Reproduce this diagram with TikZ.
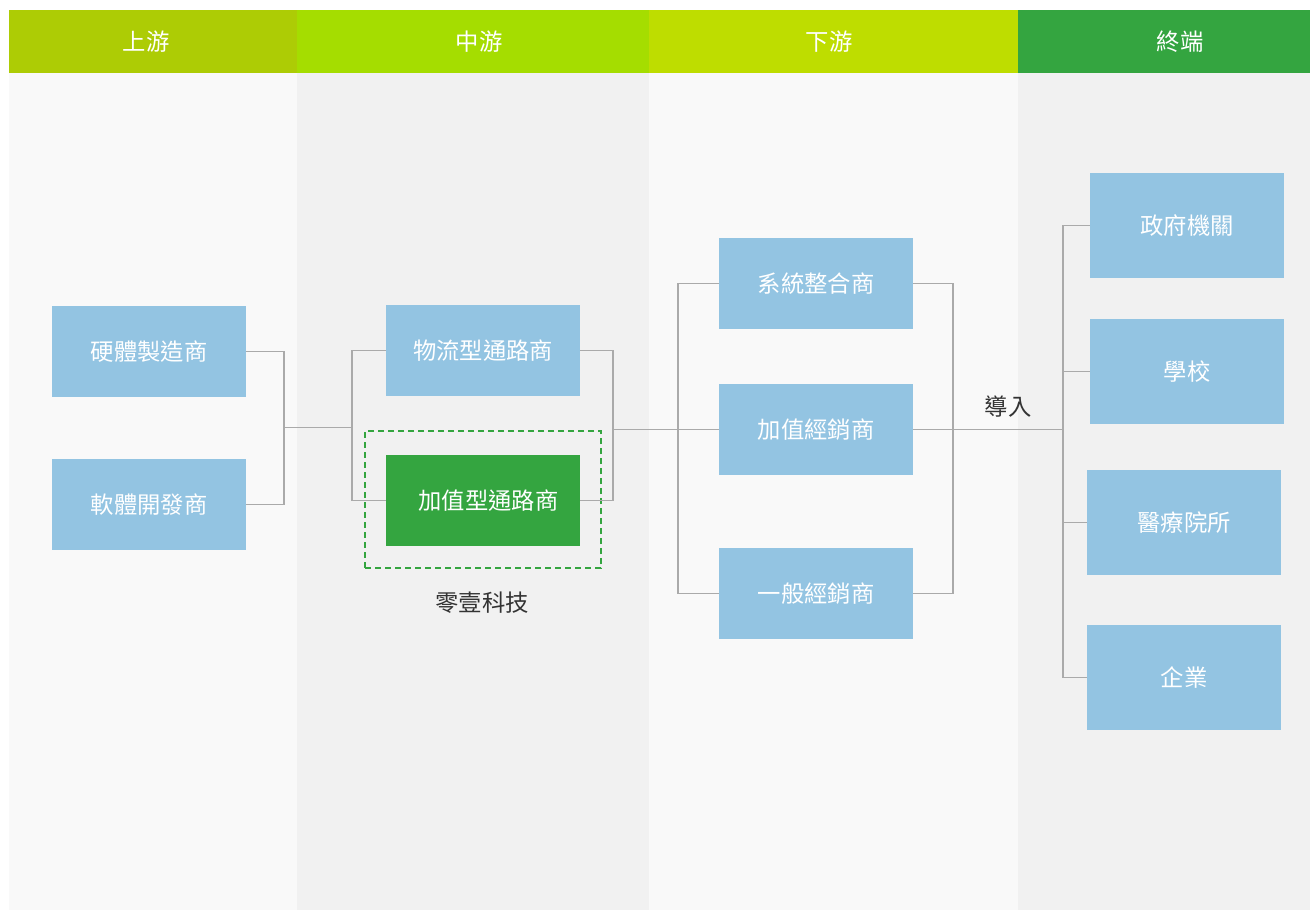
\documentclass[tikz,border=0pt]{standalone}
\usepackage{fontspec}
\setmainfont{Noto Sans CJK TC}
\usetikzlibrary{positioning}
\definecolor{hdup}{HTML}{ADCC05}
\definecolor{hdmid}{HTML}{A5DD00}
\definecolor{hddown}{HTML}{BEDD00}
\definecolor{hdend}{HTML}{34A540}
\definecolor{bglight}{HTML}{F9F9F9}
\definecolor{bgdark}{HTML}{F1F1F1}
\definecolor{boxblue}{HTML}{93C4E2}
\definecolor{boxgreen}{HTML}{34A540}
\definecolor{linegray}{HTML}{AAAAAA}
\definecolor{txtgray}{HTML}{333333}
\begin{document}
\begin{tikzpicture}[x=0.75pt, y=-0.75pt,
    every node/.style={font=\fontsize{17.5}{20}\selectfont},
    head/.style={text=white},
    bluebox/.style={fill=boxblue, text=white, inner sep=0pt, minimum width=145.5pt, minimum height=68.25pt},
    tallbox/.style={bluebox, minimum height=78.75pt},
    greenbox/.style={bluebox, fill=boxgreen},
    dashbox/.style={draw=boxgreen, line width=1.2pt, dash pattern=on 4.5pt off 3pt, minimum width=177pt, minimum height=102.75pt, inner sep=0pt},
    link/.style={draw=linegray, line width=1.4pt}]
    \useasboundingbox (0,0) rectangle (1310,910);
    \fill[white] (0,0) rectangle (1310,910);
    % columns
    \fill[bglight] (9,73) rectangle (297,910);
    \fill[bgdark] (297,73) rectangle (649,910);
    \fill[bglight] (649,73) rectangle (1018,910);
    \fill[bgdark] (1018,73) rectangle (1310,910);
    \fill[hdup] (9,10) rectangle (297,73);
    \fill[hdmid] (297,10) rectangle (649,73);
    \fill[hddown] (649,10) rectangle (1018,73);
    \fill[hdend] (1018,10) rectangle (1310,73);
    \node[head] (hup) at (146,42) {上游};
    \node[head] (hmid) at (479,42) {中游};
    \node[head] (hdown) at (829,42) {下游};
    \node[head] (hend) at (1180,42) {終端};

    % junctions
    \coordinate (j1) at (284,427.5);
    \coordinate (j2) at (352,427.5);
    \coordinate (j3) at (613,429.5);
    \coordinate (j4) at (678,429.5);
    \coordinate (j5) at (953,429.5);
    \coordinate (j6) at (1063,429.5);

    % boxes
    \node[bluebox] (hw) at (149,351.5) {硬體製造商};
    \node[bluebox] (sw) at (149,504.5) {軟體開發商};
    \node[bluebox] (logi) at (483,350.5) {物流型通路商};
    \node[greenbox] (vad) at (483,500.5) {\hspace{8pt}加值型通路商};
    \node[dashbox] (zero) at (483,499.5) {};
    \node[text=txtgray] (zerolbl) at (482,603) {零壹科技};
    \node[bluebox] (si) at (816,283.5) {系統整合商};
    \node[bluebox] (var) at (816,429.5) {加值經銷商};
    \node[bluebox] (gen) at (816,593.5) {一般經銷商};
    \node[tallbox] (gov) at (1187,225.5) {政府機關};
    \node[tallbox] (sch) at (1187,371.5) {學校};
    \node[tallbox] (med) at (1184,522.5) {醫療院所};
    \node[tallbox] (ent) at (1184,677.5) {企業};

    % connectors
    \draw[link] (hw.east) -| (j1) |- (sw.east);
    \draw[link] (j1) -- (j2);
    \draw[link] (logi.west) -| (j2) |- (vad.west);
    \draw[link] (logi.east) -| (j3) |- (vad.east);
    \draw[link] (j3) -- (var.west);
    \draw[link] (si.west) -| (j4) |- (gen.west);
    \draw[link] (si.east) -| (j5) |- (gen.east);
    \draw[link] (var.east) -- (j6);
    \draw[link] (gov.west) -| (j6) |- (ent.west);
    \draw[link] (j6) |- (sch.west);
    \draw[link] (j6) |- (med.west);
    \node[text=txtgray] (intro) at (1008,407) {導入};
\end{tikzpicture}
\end{document}
